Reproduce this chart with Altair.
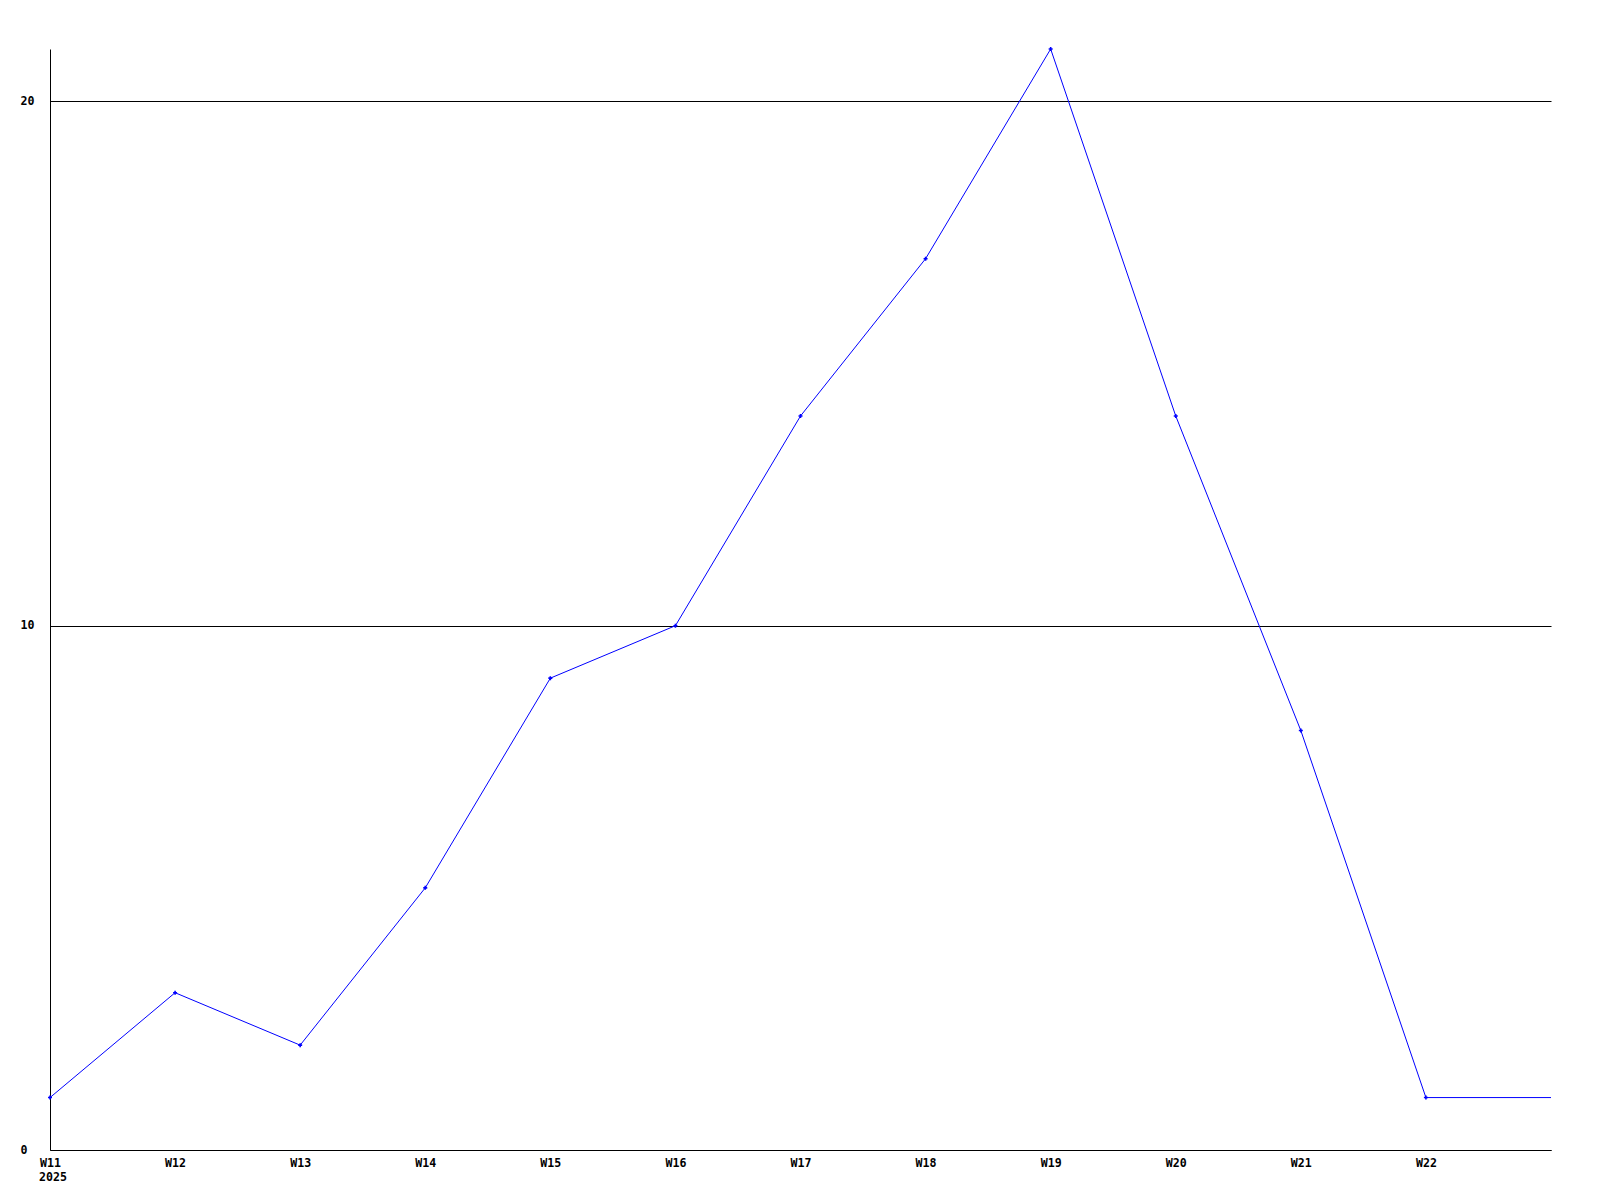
import altair as alt
import pandas as pd

weeks = [11, 12, 13, 14, 15, 16, 17, 18, 19, 20, 21, 22, 23]
values = [1, 3, 2, 5, 9, 10, 14, 17, 21, 14, 8, 1, 1]
marker_weeks = [11, 12, 13, 14, 15, 16, 17, 18, 19, 20, 21, 22]
tick_weeks = [11, 12, 13, 14, 15, 16, 17, 18, 19, 20, 21, 22]
y_ticks = [0, 10, 20]
year_label = "2025"

df = pd.DataFrame({"week": weeks, "value": values})
df["marker"] = df["week"].isin(marker_weeks)

FONT = "DejaVu Sans Mono"
FS = 11.6
H = 1101

x = alt.X("week:Q",
          scale=alt.Scale(domain=[11, 23], nice=False, zero=False),
          axis=alt.Axis(values=tick_weeks, title=None, grid=False, ticks=False,
                        tickSize=0, labelPadding=7, domainColor="black",
                        labelExpr="'W' + datum.value",
                        labelFont=FONT, labelFontSize=FS, labelFontWeight="bold",
                        labelColor="black", labelBaseline="top",
                        labelAlign="center", labelOverlap=False, labelFlush=False))
y = alt.Y("value:Q",
          scale=alt.Scale(domain=[0, 21], nice=False),
          axis=alt.Axis(values=y_ticks, title=None, grid=True, gridColor="black",
                        gridOpacity=1, ticks=False, tickSize=0, labelPadding=30,
                        labelAlign="left", labelBaseline="middle", domainColor="black",
                        labelFont=FONT, labelFontSize=FS, labelFontWeight="bold",
                        labelColor="black"))

line = alt.Chart(df).mark_line(color="#0000ff", strokeWidth=1).encode(x=x, y=y)
pts = alt.Chart(df).transform_filter("datum.marker").mark_point(
    shape="cross", filled=True, color="#0000ff", size=16, opacity=1
).encode(x="week:Q", y="value:Q")

year = alt.Chart(pd.DataFrame({"week": [weeks[0]], "label": [year_label]})).mark_text(
    font=FONT, fontSize=FS, fontWeight="bold", color="black", align="left",
    baseline="top", dx=-11
).encode(x="week:Q", y=alt.value(H + 22), text="label:N")

chart = (line + pts + year).properties(
    width=1501, height=H,
    autosize=alt.AutoSizeParams(type="none"),
    padding={"left": 42, "top": 41, "right": 10, "bottom": 40},
).configure_view(stroke=None).configure_axis(domainWidth=1, gridWidth=1)

chart.save("out.html", embed_options={"renderer": "svg", "actions": False})
